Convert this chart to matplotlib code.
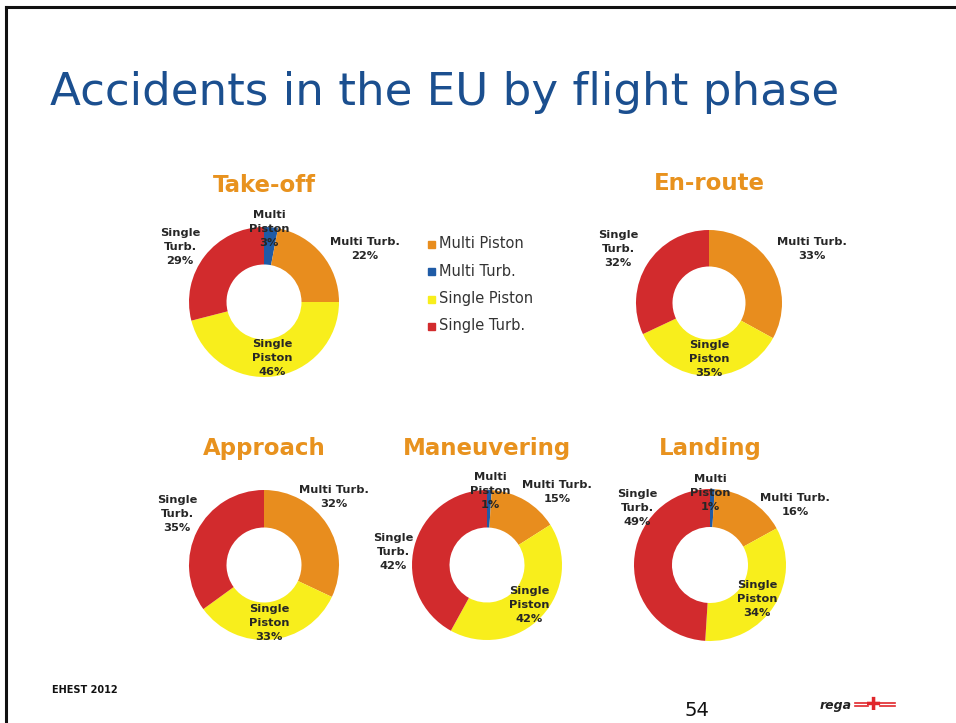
import numpy as np
import matplotlib
matplotlib.use("Agg")
import matplotlib.pyplot as plt
from matplotlib.patches import Rectangle
from matplotlib.lines import Line2D

# data
categories = ["Multi Piston", "Multi Turb.", "Single Piston", "Single Turb."]
phases = ["Take-off", "En-route", "Approach", "Maneuvering", "Landing"]
takeoff = [3, 22, 46, 29]
enroute = [0, 33, 35, 32]
approach = [0, 32, 33, 35]
maneuvering = [1, 15, 42, 42]
landing = [1, 16, 34, 49]
values = [takeoff, enroute, approach, maneuvering, landing]

# slice colours (in order of categories, as drawn in the slide)
slice_colors = ["#1F5BA6", "#E88D1E", "#F8EE1C", "#D22B2D"]
# legend as printed on the slide
legend_colors = ["#E88D1E", "#1F5BA6", "#F8EE1C", "#D22B2D"]
label_names = ["Multi\nPiston", "Multi Turb.", "Single\nPiston", "Single\nTurb."]

W, H = 956, 723
fig = plt.figure(figsize=(W / 100, H / 100), dpi=100)
fig.patch.set_facecolor("white")

def fx(x):
    return x / W

def fy(y):
    return 1 - y / H

# frame lines
fig.add_artist(Line2D([fx(6), fx(6)], [fy(7), fy(723)], color="#111111", lw=2.2))
fig.add_artist(Line2D([fx(6), fx(956)], [fy(7), fy(7)], color="#111111", lw=2.2))

fig.text(fx(50), fy(92), "Accidents in the EU by flight phase", fontsize=32.5,
         color="#1B4F8F", ha="left", va="center")

# layout: centre, radius, title position, label positions per slice
centers = [(264, 302), (709, 303), (264, 565), (487, 565), (710, 565)]
radii = [75, 73, 75, 75, 76]
title_pos = [(264, 185), (709, 184), (264, 449), (487, 449), (710, 449)]
label_pos = [
    [(269, 229), (365, 249), (272, 358), (180, 247)],
    [None, (812, 249), (709, 359), (618, 249)],
    [None, (334, 497), (269, 623), (177, 514)],
    [(490, 491), (557, 492), (529, 605), (393, 552)],
    [(710, 493), (795, 505), (757, 599), (637, 508)],
]

for i, vals in enumerate(values):
    cx, cy = centers[i]
    r = radii[i]
    ax = fig.add_axes([fx(cx - r), fy(cy + r), 2 * r / W, 2 * r / H])
    ax.pie(vals, colors=slice_colors, startangle=90, counterclock=False,
           radius=1, wedgeprops=dict(width=0.5, linewidth=0))
    ax.set_xlim(-1, 1)
    ax.set_ylim(-1, 1)
    ax.set_aspect("equal")
    ax.axis("off")

    tx, ty = title_pos[i]
    fig.text(fx(tx), fy(ty), phases[i], fontsize=16.5, fontweight="bold",
             color="#E8921E", ha="center", va="center")

    for j, v in enumerate(vals):
        pos = label_pos[i][j]
        if pos is None or v == 0:
            continue
        fig.text(fx(pos[0]), fy(pos[1]), f"{label_names[j]}\n{v}%", fontsize=8.2,
                 fontweight="bold", color="#262626", ha="center", va="center",
                 multialignment="center", linespacing=1.45)

# legend
leg_y = [244, 271, 299, 326]
for k, name in enumerate(categories):
    fig.add_artist(Rectangle((fx(428), fy(leg_y[k] + 4)), 7 / W, 7 / H,
                             color=legend_colors[k], transform=fig.transFigure))
    fig.text(fx(439), fy(leg_y[k]), name, fontsize=10.5, color="#333333",
             ha="left", va="center")

# footer
fig.text(fx(52), fy(690), "EHEST 2012", fontsize=7, fontweight="bold",
         color="#111111", ha="left", va="center", family="Liberation Sans Narrow")
fig.text(fx(697), fy(711), "54", fontsize=14, color="#111111",
         ha="center", va="center", family="Liberation Sans Narrow")
fig.text(fx(852), fy(706), "rega", fontsize=9, fontweight="bold", style="italic",
         color="#222222", ha="right", va="center")
fig.text(fx(874), fy(705), "\u271a", fontsize=13, color="#E0262B",
         ha="center", va="center")
for dy in (-2, 1):
    fig.add_artist(Line2D([fx(855), fx(868)], [fy(705 + dy), fy(705 + dy)],
                          color="#E0262B", lw=1.2))
    fig.add_artist(Line2D([fx(880), fx(895)], [fy(705 + dy), fy(705 + dy)],
                          color="#E0262B", lw=1.2))

fig.savefig("out.png", dpi=100)
